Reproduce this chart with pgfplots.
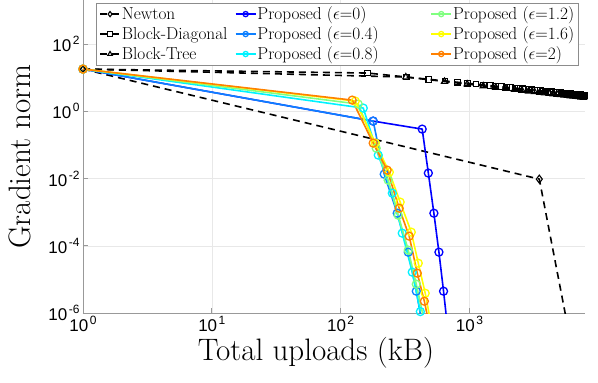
\documentclass[border=0pt]{standalone}
\usepackage{fontspec}
\usepackage{pgfplots}
\pgfplotsset{compat=1.18}
\newfontfamily\tickfont{Liberation Sans}
\definecolor{epsA}{rgb}{0,0,1}
\definecolor{epsB}{rgb}{0.05,0.5,1}
\definecolor{epsC}{rgb}{0,0.95,1}
\definecolor{epsD}{rgb}{0.5,1,0.5}
\definecolor{epsE}{rgb}{1,1,0}
\definecolor{epsF}{rgb}{1,0.5,0}
\newcommand\tk[1]{{\tickfont\fontsize{17}{17}\selectfont 10\hspace{1.5pt}\raisebox{7pt}{\fontsize{12}{12}\selectfont #1}}}
\pgfplotsset{
  prop/.style={line width=1.6pt, mark=o, mark size=4pt, mark options={solid, line width=1.3pt}},
  blk/.style={black, line width=1.6pt, dash pattern=on 7pt off 5pt, mark options={solid, line width=1.1pt}},
}
\begin{document}
\begin{tikzpicture}
\begin{axis}[name=ax, at={(0,0)}, anchor=south west, scale only axis,
  width=502pt, height=313pt,
  xmode=log, ymode=log, xmin=1, xmax=7900, ymin=1e-6, ymax=2040,
  xtick={1,10,100,1000}, xticklabels={\tk{0},\tk{1},\tk{2},\tk{3}},
  ytick={1e-6,1e-4,1e-2,1,100}, yticklabels={\tk{-6},\tk{-4},\tk{-2},\tk{0},\tk{2}},
  xminorticks=false, yminorticks=false,
  axis x line*=bottom, axis y line*=left,
  axis line style={black!40, line width=0.6pt, -},
  tick style={black!40, line width=0.6pt}, tick align=inside, major tick length=5pt,
  grid=major, grid style={black!9, line width=0.5pt},
  xlabel={Total uploads (kB)}, ylabel={Gradient norm},
  label style={font=\fontsize{31}{31}\selectfont},
  xlabel style={at={(axis description cs:0.464,0)}, anchor=north, yshift=-21pt},
  ylabel style={at={(axis description cs:-0.1255,0.5)}, anchor=center},
  legend columns=3, transpose legend, legend cell align=left,
  legend image code/.code={\draw[mark repeat=2,mark phase=2,#1] plot coordinates {(0pt,0pt) (10pt,0pt) (20pt,0pt)};},
  legend image post style={mark size=2.6pt},
  legend style={at={(axis description cs:0.0259,0.99)}, anchor=north west, draw=black!45, line width=0.5pt,
    fill=white, font=\fontsize{17.3}{17.3}\selectfont, inner xsep=3pt, inner ysep=2.5pt, row sep=3.5pt,
    nodes={inner sep=1pt}},
]
\addplot[blk, mark=diamond, mark size=4pt] coordinates {(1,18) (3490,0.0096) (6980,1e-8)};
\addlegendentry{\makebox[112pt][l]{Newton}}
\addplot[blk, mark=square, mark size=2.8pt] coordinates {
(1,18) (162,13.71) (323,10.47) (484,8.93) (645,7.98) (806,7.31) (967,6.82) (1128,6.42) (1289,6.09)
(1450,5.82) (1611,5.58) (1772,5.38) (1933,5.20) (2094,5.04) (2255,4.90) (2416,4.77) (2577,4.65)
(2738,4.54) (2899,4.44) (3060,4.35) (3221,4.26) (3382,4.18) (3543,4.11) (3704,4.04) (3865,3.97)
(4026,3.91) (4187,3.85) (4348,3.79) (4509,3.74) (4670,3.69) (4831,3.64) (4992,3.60) (5153,3.55)
(5314,3.51) (5475,3.47) (5636,3.43) (5797,3.39) (5958,3.35) (6119,3.32) (6280,3.28) (6441,3.25)
(6602,3.22) (6763,3.19) (6924,3.16) (7085,3.13) (7246,3.11) (7407,3.08) (7568,3.05) (7729,3.03)
(7890,3.00)};
\addlegendentry{\makebox[112pt][l]{Block-Diagonal}}
\addplot[blk, mark=triangle, mark size=3.6pt] coordinates {
(1,18) (321,10.42) (641,7.68) (961,6.43) (1281,5.66) (1601,5.13) (1921,4.74) (2241,4.43)
(2561,4.17) (2881,3.96) (3201,3.78) (3521,3.63) (3841,3.49) (4161,3.37) (4481,3.26) (4801,3.17)
(5121,3.08) (5441,3.00) (5761,2.92) (6081,2.85) (6401,2.79) (6721,2.73) (7041,2.68) (7361,2.62)
(7681,2.57)};
\addlegendentry{\makebox[112pt][l]{Block-Tree}}
\addplot[prop, epsA] coordinates {(1,18) (179,0.51) (430,0.295) (480,0.0145) (530,9.3e-4) (580,6.45e-5) (630,4.45e-6) (680,3.1e-7)};
\addlegendentry{\makebox[172pt][l]{Proposed ($\epsilon$=0)}}
\addplot[prop, epsB] coordinates {(1,18) (179,0.51) (218,0.0135) (275,9.3e-4) (335,6.45e-5) (387,4.46e-6) (438,3.1e-7)};
\addlegendentry{\makebox[172pt][l]{Proposed ($\epsilon$=0.4)}}
\addplot[prop, epsC] coordinates {(1,18) (150,1.245) (196,0.0497) (252,3.67e-3) (301,2.37e-4) (360,1.64e-5) (416,1.1e-6)};
\addlegendentry{\makebox[172pt][l]{Proposed ($\epsilon$=0.8)}}
\addplot[prop, epsD] coordinates {(1,18) (137,1.64) (189,0.080) (234,8.95e-3) (280,8.1e-4) (335,7.4e-5) (387,7.2e-6) (438,8.0e-7)};
\addlegendentry{Proposed ($\epsilon$=1.2)}
\addplot[prop, epsE] coordinates {(1,18) (130,2.01) (186,0.113) (239,0.0155) (290,1.99e-3) (354,2.54e-4) (401,3.03e-5) (454,3.88e-6) (506,4.3e-7)};
\addlegendentry{Proposed ($\epsilon$=1.6)}
\addplot[prop, epsF] coordinates {(1,18) (123,2.15) (179,0.113) (230,0.0178) (285,1.31e-3) (341,1.93e-4) (394,1.53e-5) (447,2.24e-6) (497,3.1e-7)};
\addlegendentry{Proposed ($\epsilon$=2)}
\end{axis}
\pgfresetboundingbox
\path ([xshift=-83pt,yshift=-70pt]ax.south west) rectangle ([xshift=13pt]ax.north east);
\end{tikzpicture}
\end{document}
